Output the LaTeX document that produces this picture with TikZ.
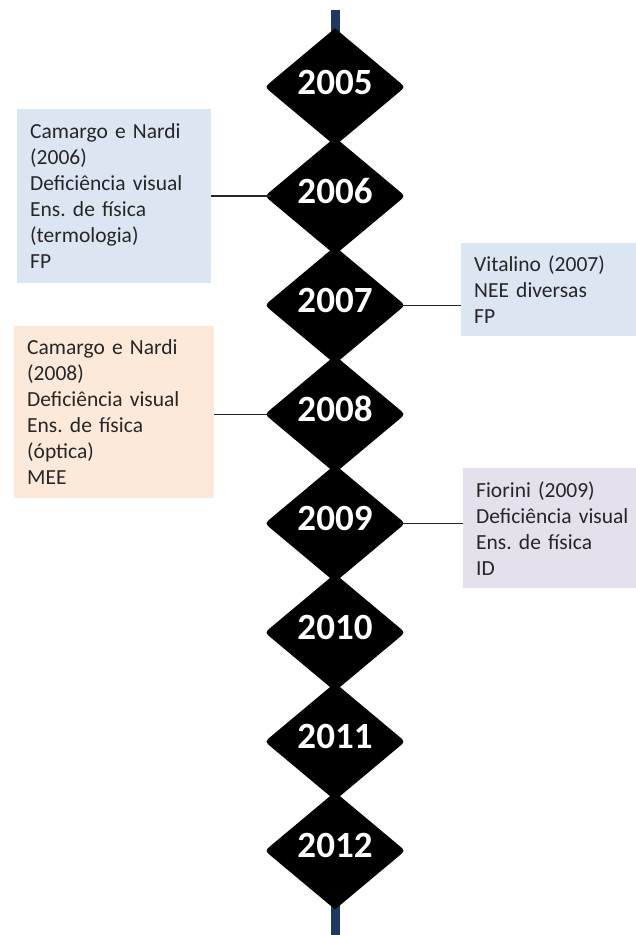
\documentclass[tikz,border=0pt]{standalone}
\usepackage{fontspec}
\setmainfont{Carlito}
\frenchspacing
\usetikzlibrary{shapes.geometric,calc}
\definecolor{navy}{RGB}{31,56,93}
\definecolor{boxblue}{RGB}{220,230,242}
\definecolor{boxpeach}{RGB}{253,233,217}
\definecolor{boxlilac}{RGB}{229,224,236}
\definecolor{txt}{RGB}{38,38,38}
\tikzset{
 yeardiamond/.style={diamond, minimum width=140pt, minimum height=117pt, inner sep=0pt},
 yeartext/.style={text=white, font=\fontsize{37}{40}\selectfont\bfseries, inner sep=0pt},
 infobox/.style={anchor=north west, align=left, inner xsep=13pt, inner ysep=0pt, text=txt, font=\fontsize{21.5}{26}\selectfont},
 link/.style={draw=black!85, line width=1.3pt, shorten >=-6pt}
}
\begin{document}
\begin{tikzpicture}[x=1pt,y=-1pt]
\useasboundingbox (0,0) rectangle (635,935);
\coordinate (ltop) at (335,10);
\coordinate (lbot) at (335,940);
\draw[navy, line width=9pt] (ltop) -- (lbot);
\foreach \yr [count=\i from 0] in {2005,2006,2007,2008,2009,2010,2011,2012}{
  \node[yeardiamond] (d\yr) at (335,{87+109.1*\i}) {};
  \fill[black] (d\yr.north)
     -- ($(d\yr.east)!9pt!(d\yr.north)$) .. controls (d\yr.east) .. ($(d\yr.east)!9pt!(d\yr.south)$)
     -- (d\yr.south)
     -- ($(d\yr.west)!9pt!(d\yr.south)$) .. controls (d\yr.west) .. ($(d\yr.west)!9pt!(d\yr.north)$)
     -- cycle;
  \node[yeartext] (t\yr) at ([yshift=5pt]d\yr.center) {\yr};
}
\node[infobox, fill=boxblue, text width=168pt, minimum height=174pt] (b1) at (17,109)
  {Camargo e Nardi\\(2006)\\Deficiência visual\\Ens. de física\\(termologia)\\FP};
\node[infobox, fill=boxblue, text width=160pt, minimum height=93pt] (b2) at (461,243)
  {Vitalino (2007)\\NEE diversas\\FP};
\node[infobox, fill=boxpeach, text width=174pt, minimum height=172pt] (b3) at (14,326)
  {Camargo e Nardi\\(2008)\\Deficiência visual\\Ens. de física\\(óptica)\\MEE};
\node[infobox, fill=boxlilac, text width=160pt, minimum height=120pt] (b4) at (463,468)
  {Fiorini (2009)\\Deficiência visual\\Ens. de física\\ID};
\draw[link] (b1.east |- d2006.west) -- (d2006.west);
\draw[link] (b2.west |- d2007.east) -- (d2007.east);
\draw[link] (b3.east |- d2008.west) -- (d2008.west);
\draw[link] (b4.west |- d2009.east) -- (d2009.east);
\end{tikzpicture}
\end{document}
